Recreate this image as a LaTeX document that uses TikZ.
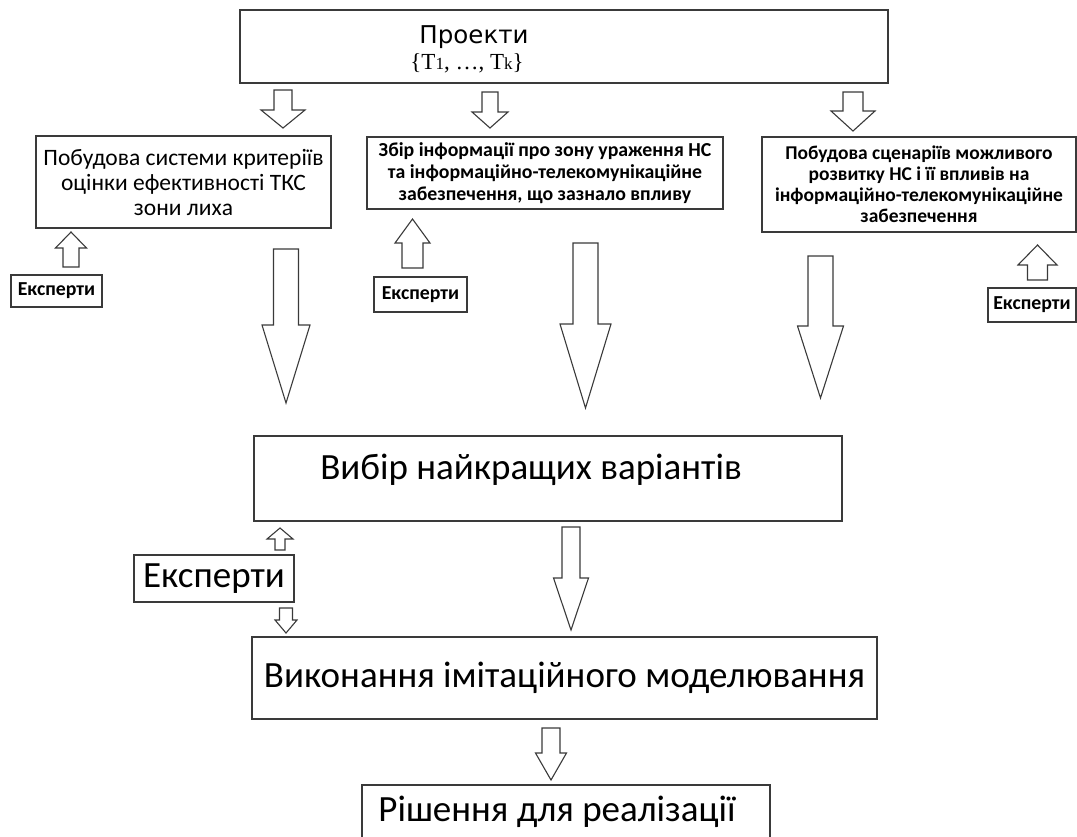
\documentclass[tikz,border=0pt]{standalone}
\usepackage{fontspec}
\setmainfont{Carlito}
\newfontfamily\dejavu{DejaVu Sans}
\newfontfamily\libserif{Liberation Serif}
\definecolor{linec}{HTML}{3A3A3A}
\newcommand{\barr}[6]{% x, start, tip, shaft width, head width, head base
  \draw[blk] ({#1-#4/2},#2) -- ({#1+#4/2},#2) -- ({#1+#4/2},#6) -- ({#1+#5/2},#6) -- (#1,#3) -- ({#1-#5/2},#6) -- ({#1-#4/2},#6) -- cycle;}
\tikzset{
  box/.style={draw=linec, line width=1.4pt, inner sep=0pt, align=center, fill=white},
  blk/.style={draw=linec, line width=1.1pt, line join=miter, fill=white},
  smallbold/.style={font=\bfseries\fontsize{19.8}{22}\selectfont},
  bigtxt/.style={font=\fontsize{37}{42}\selectfont}
}
\begin{document}
\begin{tikzpicture}[x=1pt,y=-1pt]
\useasboundingbox (0,0) rectangle (1077,836);
\clip (0,0) rectangle (1077,836);
% boxes
\node[box, minimum width=648, minimum height=73] (proj) at (564,46.5) {};
\node[font=\dejavu\fontsize{24.5}{28}\selectfont, inner sep=0pt] (projt) at (474,37) {Проекти};
\node[font=\libserif\fontsize{23}{26}\selectfont, inner sep=0pt] (projk) at (467,63) {\{T{\fontsize{17}{17}\selectfont 1}, \dots, T{\fontsize{17}{17}\selectfont k}\}};

\node[box, minimum width=295, minimum height=92, font=\fontsize{23.5}{25}\selectfont] (b1) at (183.5,182)
  {Побудова системи критеріїв\\оцінки ефективності ТКС\\зони лиха};
\node[box, minimum width=356, minimum height=72, smallbold] (b2) at (545,173)
  {Збір інформації про зону ураження НС\\та інформаційно-телекомунікаційне\\забезпечення, що зазнало впливу};
\node[box, minimum width=314, minimum height=95, smallbold, font=\bfseries\fontsize{19.5}{21}\selectfont] (b3) at (919,184.5)
  {Побудова сценаріїв можливого\\розвитку НС і її впливів на\\інформаційно-телекомунікаційне\\забезпечення};

\node[box, minimum width=91, minimum height=32, smallbold] (e1) at (56.5,291) {Експерти};
\node[box, minimum width=93, minimum height=35, smallbold] (e2) at (420.5,294.5) {Експерти};
\node[box, minimum width=88, minimum height=34, smallbold] (e3) at (1032,305) {Експерти};

\node[box, minimum width=588, minimum height=85] (vybir) at (548,478.5) {};
\node[bigtxt, inner sep=0pt] (vybirt) at (531,470) {Вибір найкращих варіантів};
\node[box, minimum width=160, minimum height=47, bigtxt] (e4) at (214,578.5) {Експерти};
\node[box, minimum width=625, minimum height=82, bigtxt] (vyk) at (564.5,678) {Виконання імітаційного моделювання};
\node[box, minimum width=408, minimum height=65] (rish) at (566,817.5) {};
\node[bigtxt, inner sep=0pt] (risht) at (557,812) {Рішення для реалізації};

% arrows
\barr{283}{90}{128}{18}{44}{110}
\barr{490}{92}{128}{16}{36}{112}
\barr{853}{92}{131}{20}{44}{111}
\barr{71}{267}{232}{16}{31}{248}
\barr{412.5}{268}{219}{21}{35}{243}
\barr{1037.5}{280}{245}{20}{39}{265}
\barr{286}{249}{403}{25}{48}{325}
\barr{585.5}{243}{408}{25}{51}{324}
\barr{820.5}{256}{398}{25}{46}{326}
\barr{280}{550}{528}{10}{26}{539}
\barr{286}{608}{633}{13}{22}{620}
\barr{571}{527}{630}{18}{35}{578}
\barr{551}{728}{780}{18}{31}{753}
\end{tikzpicture}
\end{document}
